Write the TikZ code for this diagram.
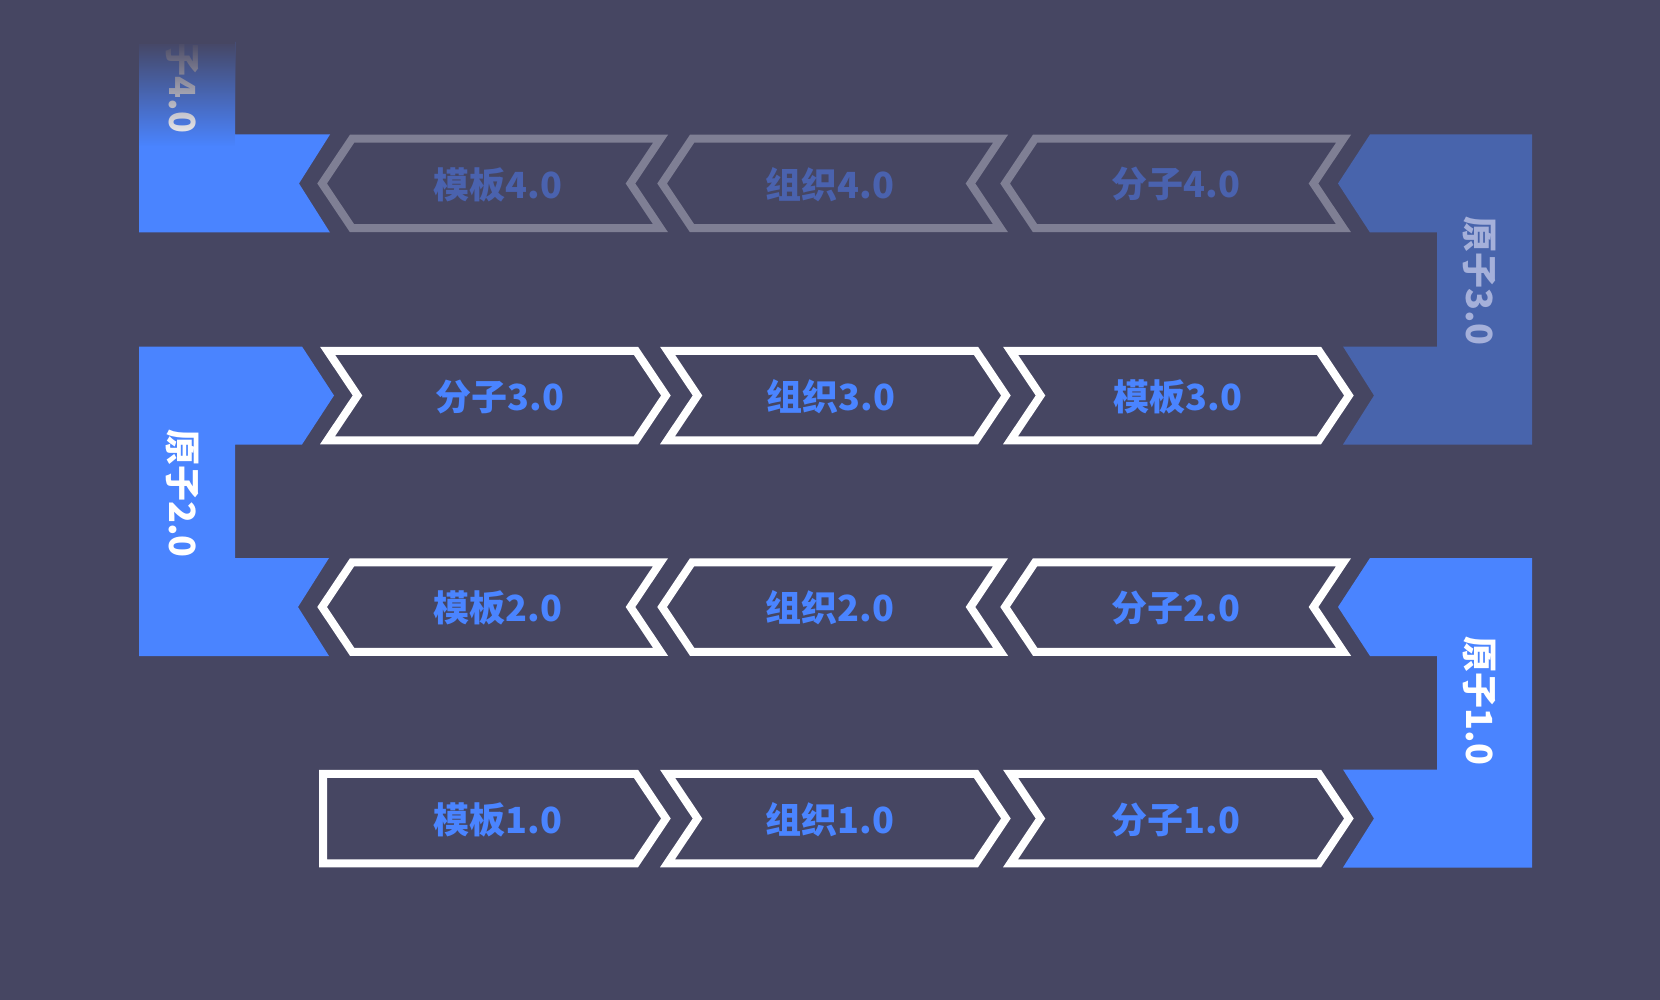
\documentclass[tikz,border=0pt]{standalone}
\usepackage{fontspec}
\newfontfamily\cjk{Noto Sans CJK SC}
\usetikzlibrary{fadings}
\definecolor{bgc}{RGB}{70,70,98}
\definecolor{blu}{RGB}{74,132,255}
\definecolor{mblu}{RGB}{72,100,172}
\definecolor{gryl}{RGB}{127,127,148}
\definecolor{dimtxt}{RGB}{74,98,174}
\definecolor{lighttxt}{RGB}{165,176,218}
\tikzfading[name=fadedown, top color=transparent!0, bottom color=transparent!100]
% right-pointing chevron: #1 outer left x, #2 centre y, #3 line style, #4 text x, #5 name, #6 text
\newcommand\chevR[6]{%
  \draw[#3] ({#1+7.5},{#2-44.75}) -- ({#1+315.9},{#2-44.75}) -- ({#1+345.9},#2)
    -- ({#1+315.9},{#2+44.75}) -- ({#1+7.5},{#2+44.75}) -- ({#1+37.5},#2) -- cycle;
  \node[lab, text=blu] (#5) at (#4,{#2+1}) {#6};}
% left-pointing chevron: #1 outer right x, #2 centre y, #3 line style, #4 text x, #5 name, #6 text, #7 text colour
\newcommand\chevL[7]{%
  \draw[#3] ({#1-7.5},{#2-44.75}) -- ({#1-315.9},{#2-44.75}) -- ({#1-345.9},#2)
    -- ({#1-315.9},{#2+44.75}) -- ({#1-7.5},{#2+44.75}) -- ({#1-37.5},#2) -- cycle;
  \node[lab, text=#7] (#5) at (#4,{#2+1}) {#6};}
\begin{document}
\begin{tikzpicture}[x=1pt,y=-1pt,
  lab/.style={font=\cjk\bfseries\fontsize{36}{36}\selectfont, inner sep=0pt},
  vlab/.style={font=\cjk\bfseries\fontsize{36}{36}\selectfont, inner sep=0pt, rotate=-90},
  wline/.style={draw=white, line width=8pt},
  gline/.style={draw=gryl, line width=8pt}]
\useasboundingbox (0,0) rectangle (1660,1000);
\fill[bgc] (0,0) rectangle (1660,1000);

% ---- top-left atom 4.0 (faded) ----
\begin{scope}
  \clip (0,42) rectangle (400,300);
  \fill[blu] (139,42) -- (235,42) -- (235,134.5) -- (330,134.5) -- (299,183.5)
    -- (330,232.5) -- (139,232.5) -- cycle;
  \node[vlab, text=white] (a4) at (182,69) {原子4.0};
  \fill[bgc] (139,30) rectangle (235,44);
  \fill[bgc, path fading=fadedown] (139,40) rectangle (235,146);
\end{scope}

% ---- left atom 2.0 ----
\fill[blu] (139,346.5) -- (302,346.5) -- (334,395.5) -- (302,444.5) -- (235,444.5)
  -- (235,558) -- (329,558) -- (298,607) -- (329,656) -- (139,656) -- cycle;
\node[vlab, text=white] (a2) at (182,493.5) {原子2.0};

% ---- right atom 3.0 ----
\fill[mblu] (1532,134.5) -- (1370,134.5) -- (1338,183.5) -- (1370,232.5) -- (1437,232.5)
  -- (1437,346.5) -- (1343,346.5) -- (1374,395.5) -- (1343,444.5) -- (1532,444.5) -- cycle;
\node[vlab, text=lighttxt] (a3) at (1479,281) {原子3.0};

% ---- right atom 1.0 ----
\fill[blu] (1532,558) -- (1370,558) -- (1338,607) -- (1370,656) -- (1437,656)
  -- (1437,769.5) -- (1343,769.5) -- (1374,818.5) -- (1343,867.5) -- (1532,867.5) -- cycle;
\node[vlab, text=white] (a1) at (1479,701) {原子1.0};

% ---- row 4 ----
\chevL{668}{183.5}{gline}{498}{m4}{模板4.0}{dimtxt}
\chevL{1008}{183.5}{gline}{830}{z4}{组织4.0}{dimtxt}
\chevL{1351}{183.5}{gline}{1176}{f4}{分子4.0}{dimtxt}

% ---- row 3 ----
\chevR{320}{395.5}{wline}{500}{f3}{分子3.0}
\chevR{660}{395.5}{wline}{831}{z3}{组织3.0}
\chevR{1003}{395.5}{wline}{1178}{m3}{模板3.0}

% ---- row 2 ----
\chevL{668}{607}{wline}{498}{m2}{模板2.0}{blu}
\chevL{1008}{607}{wline}{830}{z2}{组织2.0}{blu}
\chevL{1351}{607}{wline}{1176}{f2}{分子2.0}{blu}

% ---- row 1 ----
\draw[wline] (323,773.75) -- (635.9,773.75) -- (665.9,818.5) -- (635.9,863.25)
  -- (323,863.25) -- cycle;
\node[lab, text=blu] (m1) at (498,819.5) {模板1.0};
\chevR{660}{818.5}{wline}{830}{z1}{组织1.0}
\chevR{1003}{818.5}{wline}{1176}{f1}{分子1.0}
\end{tikzpicture}
\end{document}
